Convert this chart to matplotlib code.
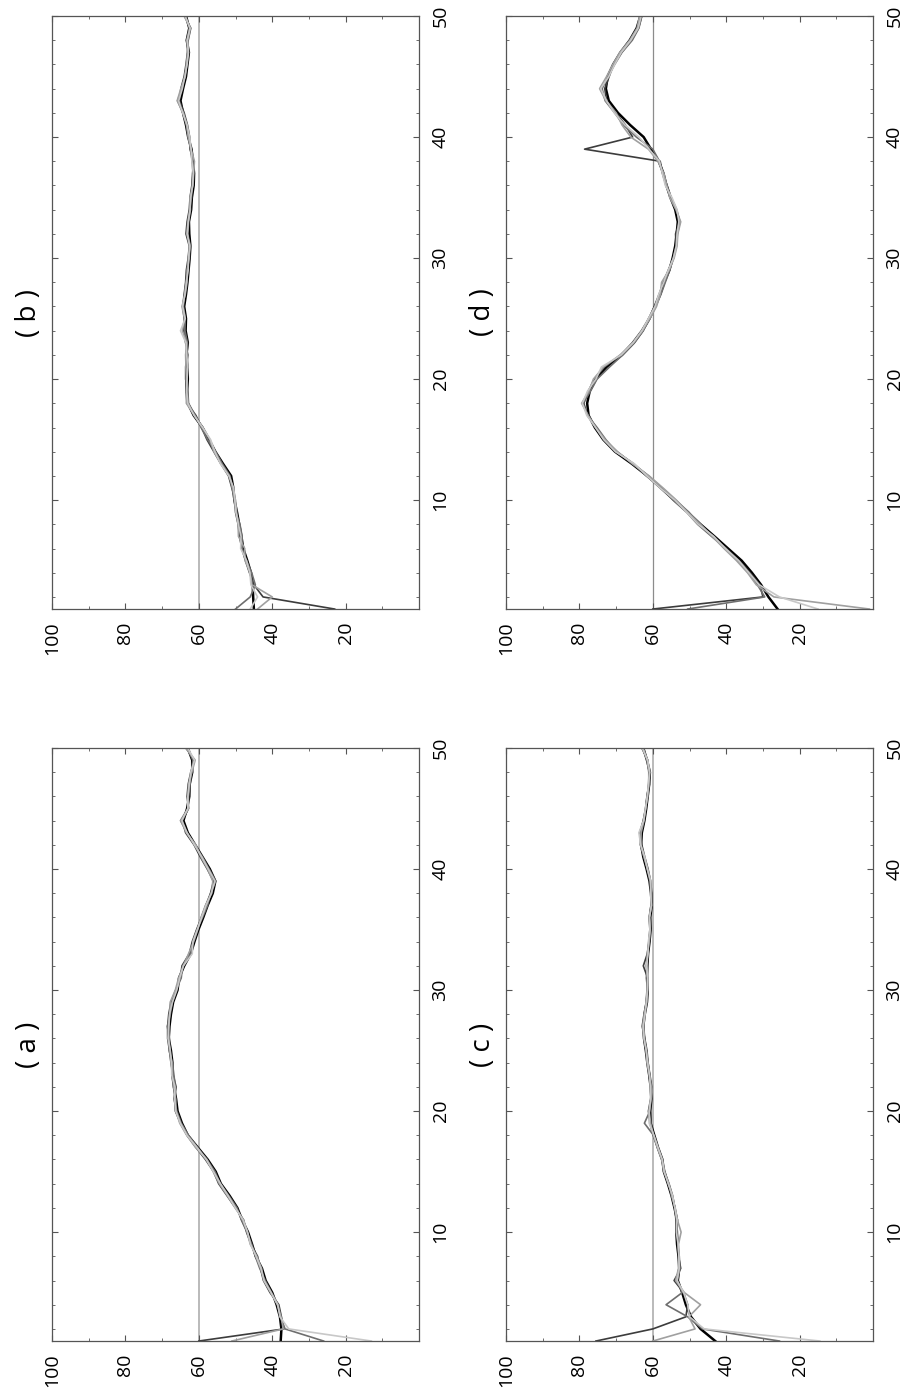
import matplotlib
matplotlib.use("Agg")
import matplotlib.pyplot as plt
from matplotlib.ticker import MultipleLocator, FixedLocator

plt.rcParams['font.family'] = ['Open Sans', 'DejaVu Sans']

# step index 1..50 (runs up the page)
steps = list(range(1, 51))

# shades used for the repeated runs, darkest first
run_colors = ['#000000', '#3c3c3c', '#6e6e6e', '#a0a0a0', '#c8c8c8']
run_widths = [1.8, 1.2, 1.2, 1.2, 1.2]

# ---- panel (a)
a_runs = [
    [37.7, 37.5, 37.9, 38.8, 40.0, 41.8, 42.8, 44.5, 45.5, 46.6, 48.2, 49.5, 51.6, 54.0, 55.4, 57.6, 60.3, 63.0, 64.6, 65.8,
     66.2, 66.8, 67.2, 67.2, 67.6, 68.2, 68.0, 67.6, 67.0, 65.8, 65.4, 64.0, 62.2, 61.2, 60.1, 58.8, 57.6, 56.2, 55.5, 57.0,
     59.0, 61.0, 63.0, 64.2, 63.2, 62.6, 62.5, 61.8, 61.8, 63.0],
    [60.0, 36.8, 37.5, 38.2, 40.6, 42.4, 43.2, 44.0, 45.8, 47.0, 47.8, 50.0, 52.3, 54.6, 56.0, 58.2, 60.8, 63.2, 65.0, 66.4,
     66.6, 66.2, 67.0, 67.6, 68.0, 68.5, 68.5, 68.2, 67.6, 66.3, 65.0, 64.6, 62.6, 61.8, 60.6, 59.3, 58.1, 56.8, 56.0, 57.7,
     59.6, 61.3, 63.6, 64.5, 62.8, 63.2, 62.9, 62.2, 61.2, 63.5],
    [26.0, 36.5, 37.8, 38.4, 40.2, 41.9, 43.4, 44.6, 45.6, 46.9, 48.4, 49.6, 51.8, 54.2, 55.6, 57.8, 60.4, 62.8, 64.8, 66.0,
     66.8, 66.4, 66.8, 67.2, 68.1, 68.0, 68.6, 67.8, 67.2, 66.2, 64.8, 64.4, 62.2, 61.6, 60.5, 59.0, 57.6, 56.8, 55.4, 57.2,
     59.0, 61.2, 63.2, 65.0, 63.0, 62.8, 62.4, 62.0, 61.6, 63.2],
    [51.0, 37.0, 37.6, 38.6, 40.4, 42.3, 42.9, 44.2, 46.0, 46.8, 47.8, 50.1, 52.2, 54.4, 56.1, 57.8, 60.9, 63.3, 65.2, 66.2,
     66.3, 66.9, 67.2, 67.6, 67.8, 68.2, 68.2, 67.9, 67.8, 66.4, 65.5, 64.2, 62.8, 61.4, 60.3, 59.4, 58.2, 56.5, 56.2, 57.6,
     59.4, 60.8, 63.4, 64.9, 62.8, 62.9, 62.8, 61.9, 61.0, 63.6],
    [13.0, 35.5, 37.9, 38.5, 40.3, 42.2, 43.1, 44.4, 45.9, 46.7, 48.0, 50.0, 52.0, 54.1, 56.0, 58.0, 60.5, 63.2, 65.0, 66.3,
     66.6, 66.5, 67.4, 67.4, 67.8, 68.4, 68.2, 68.0, 67.2, 66.0, 65.2, 64.2, 61.8, 61.6, 60.4, 59.2, 58.0, 56.6, 55.6, 57.4,
     59.2, 61.2, 63.2, 64.6, 63.0, 63.0, 62.6, 62.2, 61.2, 63.0],
]

# ---- panel (b)
b_runs = [
    [45.0, 45.2, 45.3, 45.8, 46.8, 47.9, 48.4, 49.0, 49.6, 50.3, 50.6, 51.2, 53.4, 55.5, 57.2, 59.0, 61.4, 63.0, 63.2, 63.0,
     63.1, 63.4, 63.0, 63.6, 63.5, 64.0, 63.5, 63.1, 62.8, 62.5, 62.3, 62.6, 62.7, 62.1, 61.9, 61.4, 61.3, 61.6, 62.0, 62.9,
     63.5, 64.3, 65.0, 64.3, 63.5, 63.1, 62.7, 63.3, 62.6, 63.5],
    [23.0, 42.5, 45.0, 46.2, 47.3, 48.3, 48.9, 49.3, 50.0, 50.1, 51.0, 51.9, 54.0, 55.9, 57.8, 59.2, 60.8, 63.2, 63.5, 63.5,
     63.3, 63.0, 63.6, 64.2, 64.0, 64.4, 64.0, 63.6, 63.4, 62.9, 62.6, 63.5, 63.2, 62.6, 62.4, 61.9, 61.7, 61.4, 62.4, 62.5,
     63.1, 64.0, 65.3, 64.9, 64.0, 63.5, 63.1, 62.9, 62.2, 63.9],
    [50.0, 46.0, 44.6, 45.6, 47.0, 48.2, 48.2, 48.8, 49.9, 50.4, 50.9, 51.5, 53.6, 55.4, 57.6, 59.4, 61.0, 62.8, 63.0, 63.6,
     63.6, 63.2, 63.1, 63.8, 63.7, 64.2, 63.9, 63.5, 63.0, 62.9, 62.2, 63.3, 63.0, 62.5, 62.0, 61.8, 61.6, 61.8, 62.3, 62.8,
     63.4, 64.4, 65.8, 64.6, 63.9, 63.2, 63.0, 63.3, 62.6, 63.6],
    [44.0, 40.0, 45.5, 46.0, 47.4, 47.5, 49.2, 49.3, 49.7, 50.0, 50.8, 51.7, 53.9, 55.9, 57.0, 58.9, 61.2, 63.4, 63.4, 63.2,
     63.5, 63.6, 63.3, 64.5, 63.9, 64.6, 63.7, 63.2, 63.2, 62.6, 62.5, 63.0, 62.8, 62.3, 62.4, 61.6, 61.4, 61.2, 62.1, 62.9,
     63.3, 64.2, 65.9, 64.9, 63.7, 63.4, 63.0, 63.0, 62.3, 64.0],
    [46.0, 44.0, 45.8, 46.1, 47.0, 48.6, 48.5, 49.2, 49.9, 50.2, 50.5, 51.8, 54.1, 55.6, 56.8, 59.0, 61.3, 63.0, 63.3, 63.2,
     63.0, 63.3, 63.5, 65.0, 63.7, 64.4, 63.8, 63.4, 62.9, 62.8, 62.5, 63.2, 62.9, 62.4, 62.2, 61.7, 61.5, 61.9, 62.1, 62.5,
     63.2, 64.4, 65.5, 64.5, 63.8, 63.2, 62.8, 63.2, 62.4, 63.7],
]

# ---- panel (c)
c_runs = [
    [43.0, 47.0, 49.6, 51.0, 52.0, 53.2, 52.8, 53.0, 53.4, 53.6, 53.4, 54.1, 54.9, 55.9, 57.0, 57.4, 58.6, 59.6, 60.6, 60.7,
     60.4, 60.6, 61.0, 61.5, 61.9, 62.4, 62.6, 62.2, 61.6, 61.4, 61.6, 61.5, 61.3, 60.9, 60.6, 60.7, 60.3, 60.5, 60.9, 61.7,
     62.6, 63.2, 63.0, 62.3, 61.8, 61.4, 61.0, 60.8, 61.6, 62.6],
    [75.5, 60.0, 51.0, 50.5, 51.6, 54.2, 52.4, 53.0, 53.1, 53.4, 53.7, 54.0, 54.6, 55.6, 56.8, 57.6, 58.8, 59.9, 60.8, 61.2,
     60.6, 60.3, 60.8, 61.3, 61.6, 62.2, 62.9, 62.4, 61.8, 61.6, 61.4, 62.6, 61.5, 61.1, 60.8, 61.0, 60.5, 60.3, 60.6, 61.3,
     62.2, 63.0, 63.6, 62.6, 62.0, 61.6, 61.1, 61.1, 61.4, 63.0],
    [25.5, 46.5, 50.5, 56.4, 52.0, 53.3, 52.6, 52.8, 53.2, 53.3, 53.6, 54.0, 54.7, 55.8, 56.7, 57.5, 58.6, 59.8, 62.3, 60.8,
     60.5, 60.6, 60.9, 61.3, 61.8, 62.2, 62.5, 62.4, 61.8, 61.5, 61.4, 61.8, 61.4, 61.0, 60.7, 60.9, 60.5, 60.4, 60.8, 61.5,
     62.4, 63.4, 63.4, 62.6, 61.9, 61.6, 60.9, 61.0, 61.4, 62.8],
    [60.0, 48.5, 50.2, 47.0, 51.4, 53.8, 53.0, 52.9, 53.0, 52.3, 53.3, 53.9, 54.9, 55.6, 57.0, 57.6, 58.8, 59.8, 60.6, 61.0,
     60.5, 60.4, 61.0, 61.6, 61.8, 62.4, 62.8, 62.3, 61.6, 61.6, 61.5, 61.6, 61.5, 61.0, 60.7, 61.0, 60.3, 60.5, 60.6, 61.4,
     62.4, 63.3, 63.2, 62.4, 62.0, 61.4, 61.2, 61.0, 61.6, 62.6],
    [14.5, 46.0, 50.0, 50.5, 51.6, 53.4, 52.8, 52.9, 53.1, 53.6, 53.4, 54.0, 54.6, 55.8, 56.9, 57.4, 58.6, 59.7, 61.0, 61.0,
     60.6, 60.7, 60.9, 61.4, 61.8, 62.4, 62.6, 62.1, 61.8, 61.4, 61.4, 61.7, 61.3, 61.2, 60.8, 60.9, 60.4, 60.6, 60.6, 61.5,
     62.2, 63.3, 63.8, 62.5, 62.0, 61.5, 61.2, 60.8, 61.4, 62.9],
]

# ---- panel (d)
d_runs = [
    [26.0, 28.5, 30.5, 33.0, 35.8, 39.5, 43.2, 47.0, 50.5, 54.2, 57.8, 61.5, 65.7, 70.3, 73.5, 75.8, 77.5, 77.9, 77.2, 75.5,
     72.6, 68.4, 65.2, 62.8, 60.9, 59.4, 58.0, 56.9, 55.5, 54.6, 53.9, 53.5, 53.2, 53.9, 55.2, 56.3, 57.1, 58.4, 60.5, 62.5,
     66.2, 69.5, 72.0, 72.8, 72.3, 70.8, 68.8, 66.3, 64.4, 63.4],
    [60.0, 30.0, 30.8, 33.5, 36.5, 40.3, 43.5, 47.4, 50.2, 53.8, 57.5, 61.2, 65.3, 69.8, 73.2, 75.4, 77.8, 78.8, 77.6, 75.9,
     73.2, 68.7, 65.6, 63.1, 61.1, 59.6, 58.3, 57.1, 55.8, 54.4, 53.7, 53.8, 52.7, 53.6, 55.0, 56.1, 57.3, 58.0, 78.6, 65.5,
     67.5, 70.1, 72.6, 73.1, 71.9, 70.7, 68.5, 65.8, 63.9, 63.0],
    [50.5, 29.5, 31.5, 34.0, 36.8, 40.0, 44.0, 47.8, 50.8, 54.5, 57.6, 61.8, 65.2, 70.0, 72.8, 75.2, 77.8, 79.0, 77.0, 75.2,
     71.8, 68.2, 65.0, 62.6, 61.2, 59.2, 57.8, 56.6, 55.4, 54.4, 53.6, 53.3, 52.6, 53.5, 55.0, 56.4, 57.4, 58.2, 60.0, 64.5,
     68.0, 70.4, 73.0, 73.8, 72.2, 70.4, 68.4, 65.6, 63.8, 63.0],
    [1.0, 27.0, 31.8, 34.2, 37.2, 40.6, 43.8, 47.0, 50.4, 53.6, 57.2, 61.0, 65.6, 69.6, 73.0, 75.6, 77.6, 79.4, 77.4, 76.2,
     73.4, 68.9, 65.3, 62.8, 60.8, 59.0, 58.0, 57.6, 55.6, 54.2, 53.4, 53.2, 52.4, 53.7, 55.4, 56.2, 57.0, 58.6, 61.2, 66.0,
     68.4, 70.0, 72.8, 74.5, 72.6, 70.9, 69.0, 66.3, 64.3, 63.6],
    [15.0, 25.5, 31.0, 33.8, 36.6, 40.2, 43.4, 47.6, 50.8, 54.0, 58.0, 61.6, 65.0, 70.2, 73.4, 75.6, 78.0, 79.2, 77.8, 75.5,
     74.0, 68.6, 65.4, 63.0, 61.2, 59.4, 58.4, 57.0, 55.8, 54.4, 53.6, 53.4, 52.9, 53.4, 54.8, 56.6, 57.4, 58.2, 61.0, 63.8,
     67.6, 70.5, 72.6, 74.2, 72.0, 70.4, 68.6, 66.0, 64.0, 63.2],
]

panel_labels = ['( a )', '( b )', '( c )', '( d )']
ref_level = 60
value_ticks = [100, 80, 60, 40, 20]
step_ticks = [10, 20, 30, 40, 50]


def draw_panel(ax, runs, label, ref_color, ref_width):
    # the page is turned: values run right-to-left, steps run upward
    ax.axvline(ref_level, color=ref_color, lw=ref_width, zorder=1)
    for run, col, lw in zip(runs, run_colors, run_widths):
        ax.plot(run, steps, color=col, lw=lw, zorder=2)
    ax.set_xlim(100, 0)
    ax.set_ylim(1, 50)
    ax.xaxis.set_major_locator(FixedLocator(value_ticks))
    ax.xaxis.set_minor_locator(MultipleLocator(10))
    ax.yaxis.set_major_locator(FixedLocator(step_ticks))
    ax.yaxis.set_minor_locator(MultipleLocator(2))
    ax.tick_params(which='both', direction='in', top=True, bottom=True,
                   left=True, right=True, labelleft=False, labelright=True,
                   color='#555555')
    ax.tick_params(which='major', length=4.5, width=0.8, labelsize=14, pad=9)
    ax.tick_params(which='minor', length=2.5, width=0.6)
    for t in ax.get_xticklabels():
        t.set_rotation(90)
        t.set_va('top')
        t.set_ha('center')
    for t in ax.get_yticklabels():
        t.set_rotation(90)
        t.set_va('center')
        t.set_ha('left')
    for sp in ax.spines.values():
        sp.set_color('#555555')
        sp.set_linewidth(0.9)
    ax.text(-0.063, 0.5, label, transform=ax.transAxes, rotation=90,
            ha='center', va='center', fontsize=20)


fig = plt.figure(figsize=(9.08, 13.94), dpi=100)
w, h = 0.4042, 0.4254
ax_b = fig.add_axes([0.0573, 0.5631, w, h])
ax_d = fig.add_axes([0.5573, 0.5631, w, h])
ax_a = fig.add_axes([0.0573, 0.0380, w, h])
ax_c = fig.add_axes([0.5573, 0.0380, w, h])

draw_panel(ax_a, a_runs, panel_labels[0], '#b4b4b4', 1.3)
draw_panel(ax_b, b_runs, panel_labels[1], '#b4b4b4', 1.3)
draw_panel(ax_c, c_runs, panel_labels[2], '#b4b4b4', 1.3)
draw_panel(ax_d, d_runs, panel_labels[3], '#8c8c8c', 0.9)

fig.savefig('out.png', dpi=100)
